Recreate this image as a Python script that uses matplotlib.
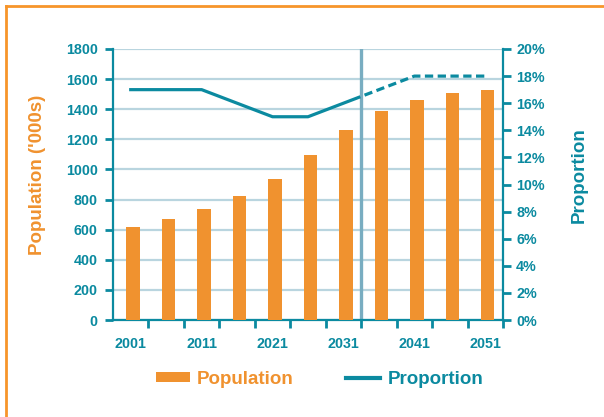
import matplotlib
matplotlib.use("Agg")
import matplotlib.pyplot as plt
from matplotlib.lines import Line2D
from matplotlib.patches import Patch, Rectangle
from matplotlib.ticker import FuncFormatter, FixedLocator
import numpy as np

years = [2001, 2006, 2011, 2016, 2021, 2026, 2031, 2036, 2041, 2046, 2051]
population = [620, 670, 740, 825, 935, 1095, 1260, 1385, 1460, 1510, 1525]
proportion = [17, 17, 17, 16, 15, 15, 16, 17, 18, 18, 18]
tick_labels = ["2001", "2011", "2021", "2031", "2041", "2051"]
projection_start = 6.5  # boundary between observed and projected

TEAL = "#0b8aa0"
ORANGE = "#f0922f"
GRID = "#b9d5df"
DIVIDER = "#79adc1"
FONT = ["Liberation Sans", "DejaVu Sans"]

plt.rcParams["font.family"] = FONT
plt.rcParams["font.weight"] = "bold"

fig = plt.figure(figsize=(6.04, 4.17), dpi=100)
ax = fig.add_axes([113/604, 1-320/417, 390/604, 271/417])
ax2 = ax.twinx()

x = np.arange(len(years))
ax.bar(x + 0.07, population, width=0.38, color=ORANGE, zorder=3)
ax.set_xlim(-0.5, 10.5)
ax.set_ylim(0, 1800)
ax.set_yticks(np.arange(0, 1801, 200))
ax.yaxis.grid(True, color=GRID, linewidth=1.6, zorder=0)
ax.set_axisbelow(True)
ax.axvline(projection_start, color=DIVIDER, linewidth=2.4, zorder=2)

ax.set_xticks(x[::2])
ax.set_xticklabels(tick_labels)
ax.xaxis.set_minor_locator(FixedLocator(np.arange(0.5, 10.6, 1)))
ax.tick_params(axis="x", which="major", length=0, pad=12.5, labelsize=10.3, labelcolor=TEAL)
ax.tick_params(axis="x", which="minor", length=6, width=2, color=TEAL, direction="out")
ax.tick_params(axis="y", length=6, width=2, color=TEAL, pad=5, labelsize=10.3, labelcolor=TEAL)

for s in ["left", "bottom"]:
    ax.spines[s].set_color(TEAL)
    ax.spines[s].set_linewidth(1.6)
for s in ["top", "right"]:
    ax.spines[s].set_visible(False)
for s in ["top", "left", "bottom"]:
    ax2.spines[s].set_visible(False)
ax2.spines["right"].set_color(TEAL)
ax2.spines["right"].set_linewidth(1.6)

ax.set_ylabel("Population ('000s)", color=ORANGE, fontsize=13.5, fontweight="bold")
ax.yaxis.set_label_coords(-0.173, 0.537)

# proportion line: solid for observed, dashed for projection
ax2.set_ylim(0, 20)
ax2.set_yticks(np.arange(0, 21, 2))
ax2.yaxis.set_major_formatter(FuncFormatter(lambda v, p: f"{int(v)}%"))
ax2.tick_params(axis="y", length=6, width=2, color=TEAL, pad=3.5, labelsize=10.3, labelcolor=TEAL)
solid, = ax2.plot(x, proportion, color=TEAL, linewidth=2.3, zorder=4)
dashed, = ax2.plot(x, proportion, color=TEAL, linewidth=2.3, zorder=4, dashes=(2.6, 1.4))
split = projection_start - 0.15
clip_solid = Rectangle((-1, -10), split + 1, 100, transform=ax2.transData, visible=False)
clip_dash = Rectangle((split, -10), 20, 100, transform=ax2.transData, visible=False)
solid.set_clip_path(clip_solid)
dashed.set_clip_path(clip_dash)
ax2.set_ylabel("Proportion", color=TEAL, fontsize=13.5, fontweight="bold")
ax2.yaxis.set_label_coords(1.174, 0.533)

handles = [Patch(facecolor=ORANGE, edgecolor="none"),
           Line2D([0], [0], color=TEAL, linewidth=3)]
leg = fig.legend(handles, ["Population", "Proportion"], loc="center",
                 bbox_to_anchor=(0.529, 0.091), ncol=2, frameon=False,
                 handlelength=1.8, handleheight=0.5, handletextpad=0.4, columnspacing=2.8,
                 prop={"size": 13.5, "weight": "bold", "family": FONT})
for t, c in zip(leg.get_texts(), [ORANGE, TEAL]):
    t.set_color(c)

# orange frame
fig.add_artist(Line2D([6/604, 6/604], [0, 1-6/417], color="#f7952a", linewidth=2, transform=fig.transFigure))
fig.add_artist(Line2D([6/604, 1], [1-6/417, 1-6/417], color="#f7952a", linewidth=2, transform=fig.transFigure))

fig.savefig("out.png", dpi=100, facecolor="white")
